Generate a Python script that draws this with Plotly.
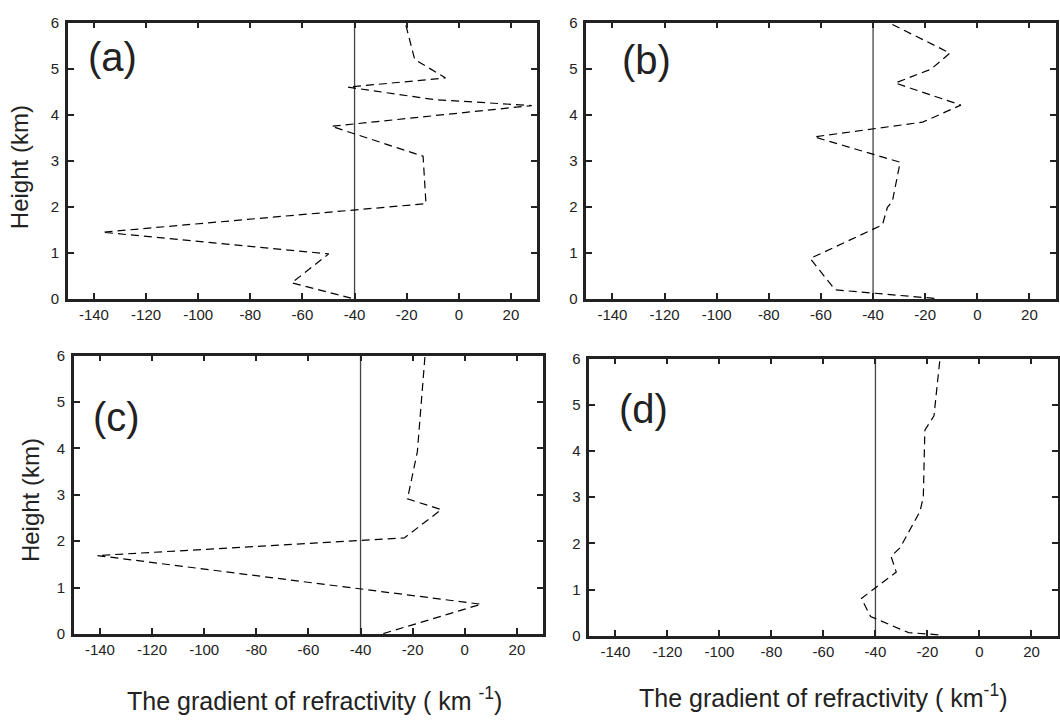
import plotly.graph_objects as go

# ---- data ----
a_height = [5.94, 5.2, 4.8, 4.6, 4.33, 4.2, 3.75, 3.1, 2.07, 1.45, 0.98, 0.35, 0.02]
a_grad = [-20.3, -16.9, -5.1, -42.5, -9.5, 28, -48.9, -13.7, -12.6, -136.8, -49.9, -64.1, -41.3]

b_height = [5.96, 5.34, 4.99, 4.69, 4.21, 3.84, 3.52, 2.97, 2.12, 1.99, 1.61, 0.88, 0.2, 0.01]
b_grad = [-32.6, -10.5, -17.8, -31.5, -6.3, -21, -62.6, -29.6, -32.6, -34.5, -36.4, -64.1, -54.6, -15.9]

c_height = [5.97, 3.93, 2.91, 2.68, 2.07, 1.69, 0.64, 0.0]
c_grad = [-15.3, -18.2, -22, -9, -23.2, -141, 6.3, -31.7]

d_height = [5.94, 4.76, 4.45, 3.0, 2.69, 1.91, 1.72, 1.38, 0.81, 0.42, 0.07, 0.02]
d_grad = [-15.3, -17.5, -21, -21.6, -22.9, -30.5, -34, -32, -45.4, -41.9, -27.3, -15]

ref_grad = [-40, -40]
ref_height = [0, 6]

x_ticks = [-140, -120, -100, -80, -60, -40, -20, 0, 20]
x_tick_text = ["-140", "-120", "-100", "-80", "-60", "-40", "-20", "0", "20"]
y_ticks = [0, 1, 2, 3, 4, 5, 6]
y_tick_text = ["0", "1", "2", "3", "4", "5", "6"]
panel_labels = ["(a)", "(b)", "(c)", "(d)"]
x_title_left = "The gradient of refractivity ( km <sup>-1</sup>)"
x_title_right = "The gradient of refractivity ( km<sup>-1</sup>)"
y_title = "Height (km)"

W, H = 1060, 721
FONT = "Liberation Sans, Arial, Helvetica, sans-serif"
INK = "#222222"

# panel boxes in pixels: (left, right, top, bottom)
boxes = [(68, 538, 14, 297), (587.5, 1057.5, 14, 297),
         (74, 544, 355, 640), (590.5, 1059.5, 358, 642)]

def px_x(v):
    return v / W

def px_y(v):
    return 1 - v / H

fig = go.Figure()
series = [(a_grad, a_height), (b_grad, b_height), (c_grad, c_height), (d_grad, d_height)]

layout = dict(
    width=W, height=H, autosize=False,
    margin=dict(l=0, r=0, t=0, b=0),
    paper_bgcolor="white", plot_bgcolor="white",
    showlegend=False,
    font=dict(family=FONT, color=INK),
)

for i, ((gx, gy), (l, r, t, b)) in enumerate(zip(series, boxes)):
    n = "" if i == 0 else str(i + 1)
    xa, ya = "x" + n, "y" + n
    fig.add_trace(go.Scatter(x=ref_grad, y=ref_height, mode="lines",
                             line=dict(color="#444444", width=1.3),
                             xaxis=xa, yaxis=ya, hoverinfo="skip"))
    fig.add_trace(go.Scatter(x=gx, y=gy, mode="lines",
                             line=dict(color="black", width=1.2, dash="8px,5px"),
                             xaxis=xa, yaxis=ya))
    common = dict(ticks="inside", ticklen=6, tickwidth=2, tickcolor=INK,
                  showline=True, linewidth=2.5, linecolor=INK, mirror="allticks",
                  showgrid=False, zeroline=False,
                  tickfont=dict(size=15, family=FONT, color=INK))
    layout["xaxis" + n] = dict(range=[-150, 30], tickvals=x_ticks, ticktext=x_tick_text,
                               domain=[px_x(l), px_x(r)], anchor=ya, **common)
    layout["yaxis" + n] = dict(range=[0, 6], tickvals=y_ticks, ticktext=y_tick_text,
                               ticklabelstandoff=3,
                               domain=[px_y(b), px_y(t)], anchor=xa, **common)

ann = []
label_pos = [(113, 49), (648, 52), (117, 418), (645, 410)]
for lab, (cx, cy) in zip(panel_labels, label_pos):
    ann.append(dict(text=lab, x=px_x(cx), y=px_y(cy), xref="paper", yref="paper",
                    showarrow=False, xanchor="center", yanchor="middle",
                    font=dict(size=40, family=FONT, color=INK)))
for (cx, cy) in [(19, 162), (30, 503)]:
    ann.append(dict(text=y_title, x=px_x(cx), y=px_y(cy), xref="paper", yref="paper",
                    showarrow=False, xanchor="center", yanchor="middle", textangle=-90,
                    font=dict(size=24, family=FONT, color=INK)))
ann.append(dict(text=x_title_left, x=px_x(315), y=px_y(707), xref="paper", yref="paper",
                showarrow=False, xanchor="center", yanchor="middle",
                font=dict(size=25, family=FONT, color=INK)))
ann.append(dict(text=x_title_right, x=px_x(825), y=px_y(704), xref="paper", yref="paper",
                showarrow=False, xanchor="center", yanchor="middle",
                font=dict(size=25, family=FONT, color=INK)))
layout["annotations"] = ann

fig.update_layout(**layout)
fig.write_html("out.html")
